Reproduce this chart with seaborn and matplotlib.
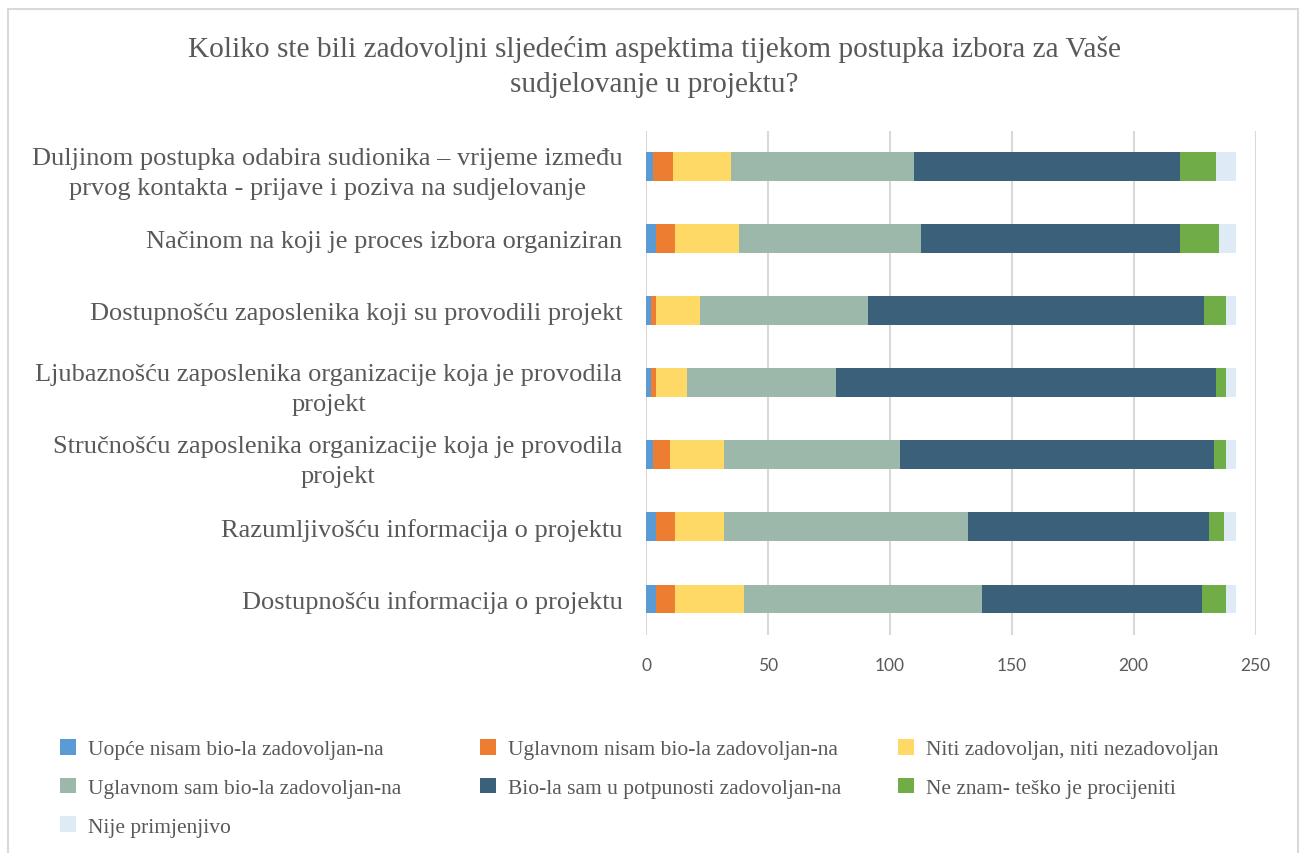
import numpy as np
import pandas as pd
import matplotlib.pyplot as plt
import seaborn as sns
from matplotlib.patches import Patch, Rectangle

sns.set_theme(style="white")
plt.rcParams["font.family"] = ["Liberation Serif", "DejaVu Serif"]

# ==================================================
# DATA
# ==================================================
categories = [
    "Duljinom postupka odabira sudionika – vrijeme između\nprvog kontakta - prijave i poziva na sudjelovanje",
    "Načinom na koji je proces izbora organiziran",
    "Dostupnošću zaposlenika koji su provodili projekt",
    "Ljubaznošću zaposlenika organizacije koja je provodila\nprojekt",
    "Stručnošću zaposlenika organizacije koja je provodila\nprojekt",
    "Razumljivošću informacija o projektu",
    "Dostupnošću informacija o projektu",
]

series_names = [
    "Uopće nisam bio-la zadovoljan-na",
    "Uglavnom nisam bio-la zadovoljan-na",
    "Niti zadovoljan, niti nezadovoljan",
    "Uglavnom sam bio-la zadovoljan-na",
    "Bio-la sam u potpunosti zadovoljan-na",
    "Ne znam- teško je procijeniti",
    "Nije primjenjivo",
]

uopce_ne = [3, 4, 2, 2, 3, 4, 4]
uglavnom_ne = [8, 8, 2, 2, 7, 8, 8]
niti = [24, 26, 18, 13, 22, 20, 28]
uglavnom_da = [75, 75, 69, 61, 72, 100, 98]
potpuno = [109, 106, 138, 156, 129, 99, 90]
ne_znam = [15, 16, 9, 4, 5, 6, 10]
nije_primj = [8, 7, 4, 4, 4, 5, 4]

colors = ["#5B9BD5", "#ED7D31", "#FFD966", "#9BB8AB", "#3A6179", "#70AD47", "#DEEAF6"]

x_ticks = [0, 50, 100, 150, 200, 250]

# ==================================================
# PLOT
# ==================================================
W, H = 1309, 854
fig = plt.figure(figsize=(W / 100, H / 100), dpi=100)
ax = fig.add_axes([646 / W, 1 - 636 / H, 609.5 / W, (636 - 131.5) / H])

values = np.array([uopce_ne, uglavnom_ne, niti, uglavnom_da, potpuno, ne_znam, nije_primj])
cum = np.cumsum(values, axis=0)

# stacked bars: draw cumulative totals from largest to smallest
for i in range(len(series_names) - 1, -1, -1):
    df = pd.DataFrame({"cat": categories, "val": cum[i]})
    sns.barplot(data=df, x="val", y="cat", order=categories, color=colors[i],
                orient="h", width=0.4, linewidth=0, saturation=1, ax=ax, zorder=3)

ax.set_xlim(0, 250)
ax.set_ylim(6.5, -0.5)
ax.set_xticks(x_ticks)
ax.set_xlabel("")
ax.set_ylabel("")
for s in ax.spines.values():
    s.set_visible(False)
ax.grid(axis="x", color="#D9D9D9", linewidth=1.5, zorder=0)
ax.grid(axis="y", visible=False)
ax.tick_params(axis="x", length=0, pad=16, labelsize=12.5, labelcolor="#595959")
ax.tick_params(axis="y", length=0, pad=17, labelsize=19, labelcolor="#595959")
for lab in ax.get_xticklabels():
    lab.set_fontfamily(["Lato", "DejaVu Sans"])
for lab in ax.get_yticklabels():
    lab.set_multialignment("center")
    lab.set_linespacing(1.45)

fig.text(0.5, 1 - 67 / H,
         "Koliko ste bili zadovoljni sljedećim aspektima tijekom postupka izbora za Vaše\nsudjelovanje u projektu?",
         ha="center", va="center", fontsize=21.2, color="#595959", linespacing=1.45)

# legend: three columns like Excel
cols = [[0, 3, 6], [1, 4], [2, 5]]
col_x = [60 / W, 480 / W, 898 / W]
for cx, idx in zip(col_x, cols):
    handles = [Patch(facecolor=colors[i], edgecolor="none", label=series_names[i]) for i in idx]
    fig.legend(handles=handles, loc="upper left", bbox_to_anchor=(cx, 1 - 740 / H),
               frameon=False, fontsize=15.5, handlelength=0.75, handleheight=0.75,
               handletextpad=0.55, labelspacing=0.85, labelcolor="#595959",
               borderaxespad=0, borderpad=0)

fig.patches.append(Rectangle((8 / W, -0.01), (1298 - 8) / W, 1.01 - 10 / H,
                             transform=fig.transFigure, fill=False,
                             edgecolor="#D9D9D9", linewidth=1.5))

fig.savefig("out.png", dpi=100)
